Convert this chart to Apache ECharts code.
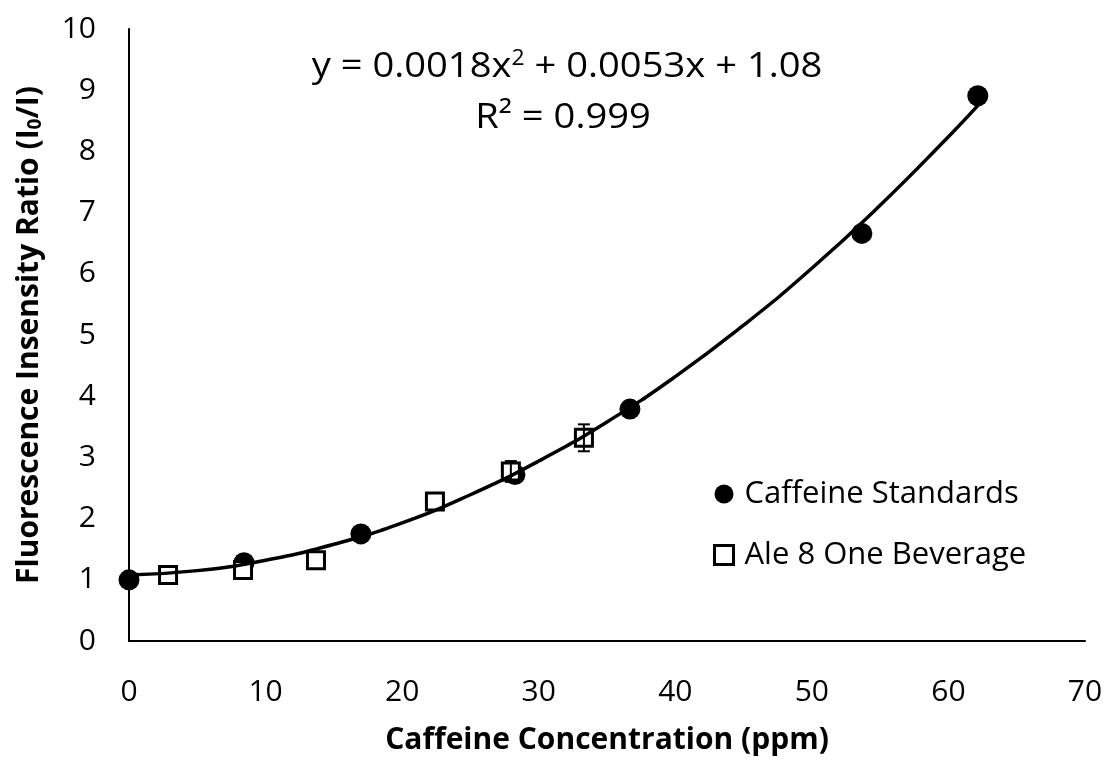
<!DOCTYPE html>
<html>
<head>
<meta charset="utf-8">
<script src="https://cdn.jsdelivr.net/npm/echarts@6/dist/echarts.min.js"></script>
<style>html,body{margin:0;padding:0;background:#fff}#c{width:1107px;height:761px}</style>
</head>
<body>
<div id="c"></div>
<script>
// Caffeine standards (filled circles)
var stdX = [0, 8.42, 16.98, 28.26, 36.68, 53.66, 62.15];
var stdY = [1.0, 1.28, 1.75, 2.72, 3.79, 6.66, 8.91];
// Ale 8 One beverage (open squares)
var aleX = [2.86, 8.35, 13.69, 22.4, 27.96, 33.31];
var aleY = [1.08, 1.16, 1.32, 2.28, 2.77, 3.32];
var aleErr = [0, 0, 0, 0, 0.17, 0.22];
// trendline
var trendX = [0, 5, 10, 15, 20, 25, 30, 35, 40, 45, 50, 55, 60, 62.2];
var trendY = [1.08, 1.15, 1.32, 1.58, 1.93, 2.39, 2.94, 3.58, 4.32, 5.16, 6.09, 7.12, 8.24, 8.76];
var xTicks = [0, 10, 20, 30, 40, 50, 60, 70];
var yTicks = [0, 1, 2, 3, 4, 5, 6, 7, 8, 9, 10];

function pairs(xs, ys) { return xs.map(function (x, i) { return [x, ys[i]]; }); }

var errData = [];
aleX.forEach(function (x, i) {
  if (aleErr[i] > 0) errData.push([x, aleY[i] - aleErr[i], aleY[i] + aleErr[i]]);
});

var FONT = '"Open Sans", "Liberation Sans", sans-serif';
var chart = echarts.init(document.getElementById('c'), null, {renderer: 'canvas'});
chart.setOption({
  animation: false,
  backgroundColor: '#fff',
  textStyle: {fontFamily: FONT, color: '#000'},
  grid: {left: 129, right: 22, top: 29, bottom: 120, containLabel: false},
  xAxis: {
    type: 'value', min: xTicks[0], max: xTicks[xTicks.length - 1], interval: 10,
    name: 'Caffeine Concentration (ppm)', nameLocation: 'middle', nameGap: 84,
    nameTextStyle: {fontFamily: FONT, fontWeight: 'bold', fontSize: 30, color: '#000'},
    axisLine: {lineStyle: {color: '#000', width: 2}},
    axisTick: {show: false}, splitLine: {show: false},
    axisLabel: {fontFamily: FONT, fontSize: 30, color: '#000', margin: 36}
  },
  yAxis: {
    type: 'value', min: yTicks[0], max: yTicks[yTicks.length - 1], interval: 1,
    name: 'Fluorescence Insensity Ratio (I{sub|0}/I)', nameLocation: 'middle', nameGap: 84,
    nameTextStyle: {fontFamily: FONT, fontWeight: 'bold', fontSize: 30, color: '#000',
      rich: {sub: {fontFamily: FONT, fontWeight: 'bold', fontSize: 19, color: '#000', padding: [13, 0, 0, 0]}}},
    axisLine: {show: true, lineStyle: {color: '#000', width: 2}},
    axisTick: {show: false}, splitLine: {show: false},
    axisLabel: {fontFamily: FONT, fontSize: 30, color: '#000', margin: 33}
  },
  legend: {
    orient: 'vertical', left: 708, top: 471, itemGap: 25, itemWidth: 19, itemHeight: 19,
    textStyle: {fontFamily: FONT, fontSize: 31, color: '#000', lineHeight: 36, padding: [0, 0, 0, 6]},
    data: [{name: 'Caffeine Standards', icon: 'circle'}, {name: 'Ale 8 One Beverage', icon: 'rect',
      itemStyle: {color: '#fff', borderColor: '#000', borderWidth: 3}}]
  },
  graphic: [
    {type: 'text', x: 567, y: 67, scaleX: 1.09, z: 100, style: {
      text: 'y = 0.0018x{sup|2} + 0.0053x + 1.08', align: 'center', verticalAlign: 'middle',
      fontFamily: FONT, fontSize: 35, fill: '#000',
      rich: {sup: {fontFamily: FONT, fontSize: 21, fill: '#000', padding: [0, 0, 16, 0]}}}},
    {type: 'text', x: 563, y: 118, scaleX: 1.09, z: 100, style: {
      text: 'R² = 0.999', align: 'center', verticalAlign: 'middle',
      fontFamily: FONT, fontSize: 35, fill: '#000'}}
  ],
  series: [
    {name: 'Caffeine Standards', type: 'scatter', symbol: 'circle', symbolSize: 21, z: 2,
      itemStyle: {color: '#000', opacity: 1}, data: pairs(stdX, stdY)},
    {name: 'Ale 8 One Beverage', type: 'scatter', symbol: 'rect', symbolSize: 17, z: 3,
      itemStyle: {color: '#fff', borderColor: '#000', borderWidth: 3, opacity: 1}, data: pairs(aleX, aleY)},
    {name: 'err', type: 'custom', z: 4, silent: true, data: errData,
      renderItem: function (params, api) {
        var lo = api.coord([api.value(0), api.value(1)]);
        var hi = api.coord([api.value(0), api.value(2)]);
        var w = 6;
        var st = {stroke: '#000', lineWidth: 2};
        return {type: 'group', children: [
          {type: 'line', shape: {x1: lo[0], y1: lo[1], x2: hi[0], y2: hi[1]}, style: st},
          {type: 'line', shape: {x1: lo[0] - w, y1: lo[1], x2: lo[0] + w, y2: lo[1]}, style: st},
          {type: 'line', shape: {x1: hi[0] - w, y1: hi[1], x2: hi[0] + w, y2: hi[1]}, style: st}
        ]};
      }},
    {name: 'trend', type: 'line', smooth: true, showSymbol: false, symbol: 'none', z: 5, silent: true,
      lineStyle: {color: '#000', width: 3.5}, data: pairs(trendX, trendY)}
  ]
});
</script>
</body>
</html>
